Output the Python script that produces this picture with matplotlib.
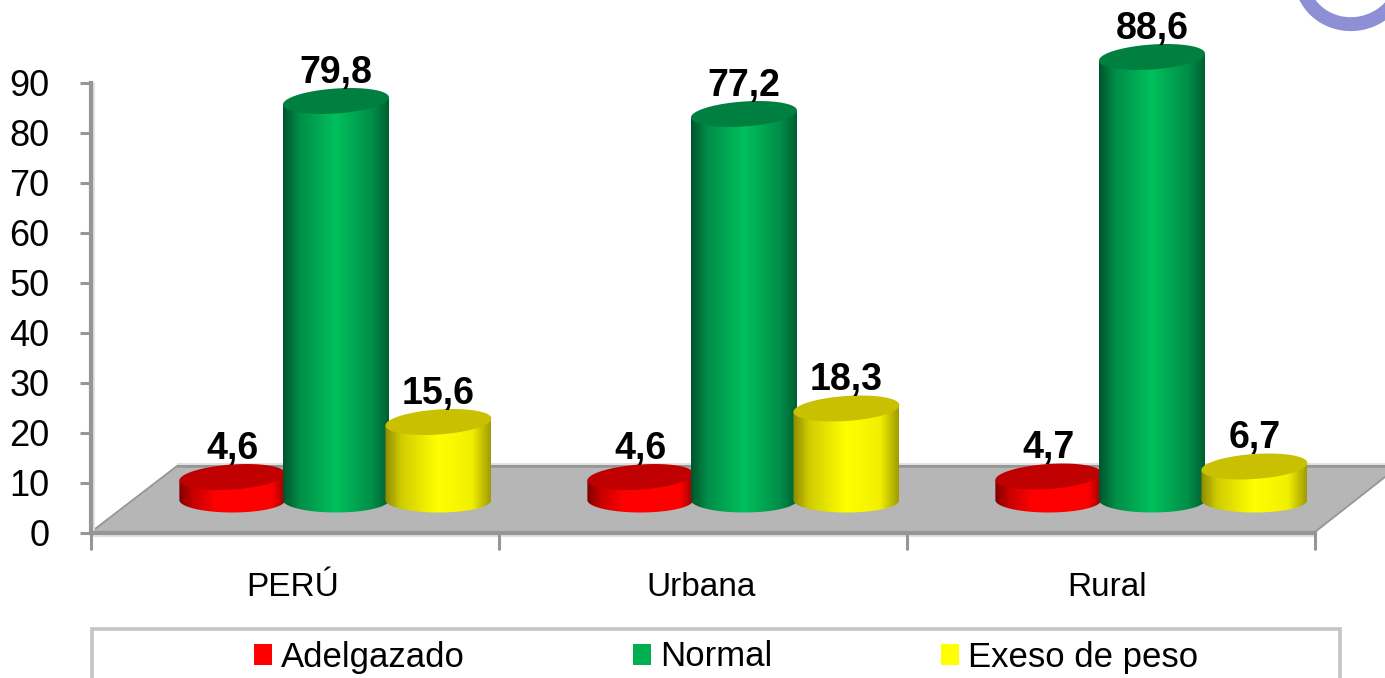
import numpy as np
import matplotlib
matplotlib.use("Agg")
import matplotlib.pyplot as plt
from matplotlib.path import Path
from matplotlib.patches import PathPatch, Polygon, Rectangle, Ellipse
from matplotlib.colors import LinearSegmentedColormap

categories = ["PERÚ", "Urbana", "Rural"]
series_names = ["Adelgazado", "Normal", "Exeso de peso"]
adelgazado = [4.6, 4.6, 4.7]
normal = [79.8, 77.2, 88.6]
exceso = [15.6, 18.3, 6.7]
yticks = [0, 10, 20, 30, 40, 50, 60, 70, 80, 90]

plt.rcParams["font.family"] = ["Liberation Sans", "DejaVu Sans"]
W, H = 1385, 678
fig = plt.figure(figsize=(W / 100, H / 100), dpi=100, facecolor="white")

# pixel-space layer for floor, legend frame and logo fragment
bg = fig.add_axes([0, 0, 1, 1], zorder=0)
bg.set_xlim(0, W); bg.set_ylim(H, 0); bg.axis("off")

AX_L, AX_R, AX_T, AX_B = 91, 1315, 83, 533
ax = fig.add_axes([AX_L / W, 1 - AX_B / H, (AX_R - AX_L) / W, (AX_B - AX_T) / H], zorder=1)
ax.patch.set_alpha(0)
GRAY = "#969696"

# floor
bg.add_patch(Polygon([(91, 532), (177, 466), (1385, 466), (1385, 477), (1315, 532)],
                     closed=True, fc="#B6B6B6", ec="none"))
bg.plot([177, 1385], [466, 466], color=GRAY, lw=2.6, solid_capstyle="butt")
bg.plot([177, 1385], [463.5, 463.5], color="#E2E2E2", lw=1.4, solid_capstyle="butt")
bg.plot([91, 177], [532, 466], color=GRAY, lw=1.3)
bg.plot([1315, 1385], [532, 477], color=GRAY, lw=1.3)
bg.plot([91, 1315], [536, 536], color="#E2E2E2", lw=1.5)
bg.plot([92.5, 92.5], [83, 533], color="#E0E0E0", lw=2)

# logo fragment, top right
bg.add_patch(Ellipse((1352, -24), 102, 96, angle=-12, fc="none", ec="#8E90D6", lw=10))

# legend frame (runs off the bottom of the picture)
bg.add_patch(Rectangle((92, 628.5), 1248, 70, fc="white", ec="#C4C4C4", lw=2.6))

PX_X = (AX_R - AX_L) / 3.0
PX_Y = (AX_B - AX_T) / 90.0
base = 33 / PX_Y
bar_w = 106 / PX_X
ry = 12.5 / PX_Y
tilt = 3.5 / PX_Y
offsets = [-0.254, 0.0, 0.251]
group0 = 0.6005

cmaps = [
    LinearSegmentedColormap.from_list("r", [(0, "#7E0000"), (.12, "#C40000"), (.35, "#FF0000"), (.88, "#FF0000"), (1, "#A00000")]),
    LinearSegmentedColormap.from_list("g", [(0, "#00552C"), (.15, "#008C48"), (.5, "#00C05C"), (.85, "#008C48"), (1, "#005F32")]),
    LinearSegmentedColormap.from_list("y", [(0, "#8E8A00"), (.15, "#D0CC00"), (.5, "#FFFF00"), (.82, "#F2F000"), (1, "#A09C00")]),
]
top_colors = ["#C00000", "#008040", "#C8C000"]
flat_colors = ["#FF0000", "#00B050", "#FFFF00"]

t = np.linspace(0, 2 * np.pi, 121)
gradient = np.linspace(0, 1, 256)[None, :]


def cylinder(cx, value, idx, z):
    rx = bar_w / 2
    top = base + value
    lower = np.linspace(np.pi, 2 * np.pi, 61)
    xs = np.r_[cx - rx, cx + rx * np.cos(lower), cx + rx]
    ys = np.r_[top - tilt, base + ry * np.sin(lower), top + tilt]
    body = PathPatch(Path(np.c_[xs, ys]), fc="none", ec="none", zorder=z, clip_on=False)
    ax.add_patch(body)
    im = ax.imshow(gradient, extent=[cx - rx, cx + rx, base - ry, top + tilt], aspect="auto",
                   cmap=cmaps[idx], origin="lower", zorder=z, interpolation="bilinear")
    im.set_clip_path(body)
    im.set_clip_box(fig.bbox)
    cap = Polygon(np.c_[cx + rx * np.cos(t), top + ry * np.sin(t) + tilt * np.cos(t)],
                  closed=True, fc=top_colors[idx], ec="none", zorder=z + 0.1, clip_on=False)
    ax.add_patch(cap)
    ax.text(cx, top + 5.6, f"{value:.1f}".replace(".", ","), ha="center", va="center",
            fontsize=27, fontweight="bold", color="black", zorder=20, clip_on=False)


for g in range(len(categories)):
    values = [adelgazado[g], normal[g], exceso[g]]
    for s, v in enumerate(values):
        cylinder(g + group0 + offsets[s], v, s, 3 + s)

ax.set_xlim(0, 3)
ax.set_ylim(0, 90)
ax.set_yticks(yticks)
ax.set_xticks([0, 1, 2, 3])
ax.set_xticklabels([])
ax.set_xticks([0.495, 1.495, 2.49], minor=True)
ax.set_xticklabels(categories, minor=True, fontsize=24)
ax.tick_params(axis="x", which="major", length=12, width=2.2, color=GRAY)
ax.tick_params(axis="x", which="minor", length=0, pad=28)
ax.tick_params(axis="y", length=8, width=2.2, color=GRAY, labelsize=26, pad=22)
for sp in ["top", "right"]:
    ax.spines[sp].set_visible(False)
for sp in ["left", "bottom"]:
    ax.spines[sp].set_color(GRAY)
    ax.spines[sp].set_linewidth(3)

handles = [Rectangle((0, 0), 1, 1, fc=c, ec="none") for c in flat_colors]
leg = ax.legend(handles, series_names, ncols=3, loc="center", frameon=False, fontsize=25,
                bbox_to_anchor=(726, 657), bbox_transform=bg.transData,
                handlelength=0.52, handleheight=0.55, handletextpad=0.27,
                columnspacing=4.84, borderpad=0, borderaxespad=0)

fig.savefig("out.png", dpi=100)
